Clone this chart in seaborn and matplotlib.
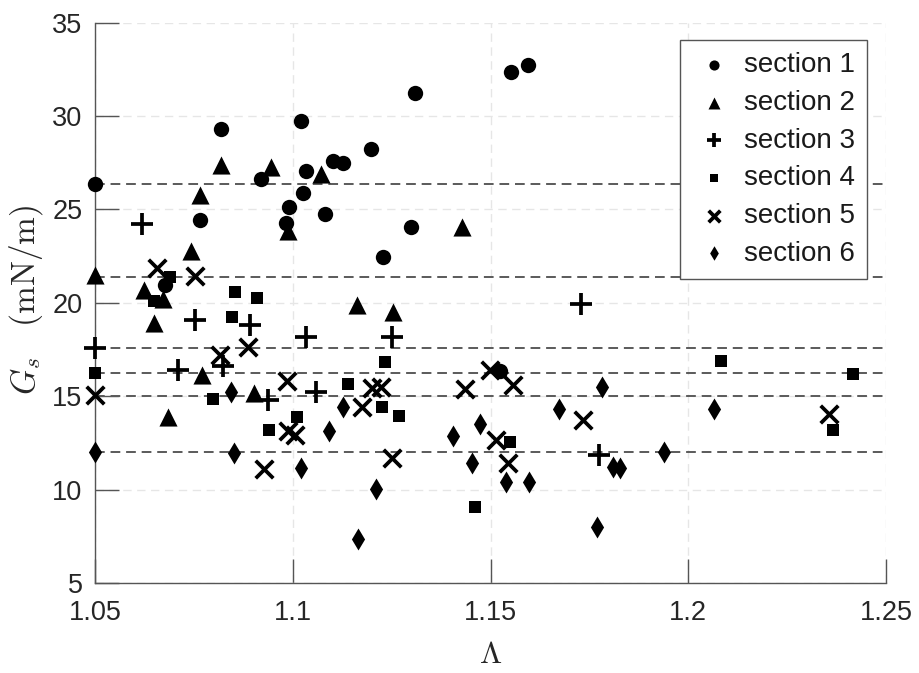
import matplotlib
matplotlib.use("Agg")
import matplotlib.pyplot as plt
import pandas as pd
import seaborn as sns

# Surface energy G_s (mN/m) against stretch ratio Lambda, six sections
sections = ["section 1", "section 2", "section 3", "section 4", "section 5", "section 6"]

lam_s1 = [1.050, 1.0818, 1.092, 1.0765, 1.0677, 1.1022, 1.1309, 1.1198, 1.1102, 1.1128,
          1.1033, 1.1025, 1.0990, 1.0982, 1.1082, 1.1299, 1.1229, 1.1553, 1.1596, 1.1524]
gs_s1 = [26.36, 29.29, 26.61, 24.43, 20.95, 29.73, 31.25, 28.25, 27.61, 27.47,
         27.06, 25.90, 25.15, 24.25, 24.75, 24.04, 22.43, 32.38, 32.73, 16.36]

lam_s2 = [1.050, 1.0818, 1.0944, 1.0765, 1.0743, 1.0625, 1.0673, 1.0649, 1.1072, 1.0987,
          1.1427, 1.1163, 1.1254, 1.0770, 1.0685, 1.0903]
gs_s2 = [21.50, 27.38, 27.29, 25.77, 22.79, 20.68, 20.18, 18.93, 26.90, 23.86,
         24.07, 19.88, 19.52, 16.13, 13.90, 15.20]

lam_s3 = [1.050, 1.0618, 1.0753, 1.0892, 1.0711, 1.0824, 1.0938, 1.1033, 1.1250, 1.1059,
          1.1728, 1.1775]
gs_s3 = [17.56, 24.22, 19.08, 18.81, 16.40, 16.61, 14.79, 18.15, 18.15, 15.24,
         19.93, 11.85]

lam_s4 = [1.050, 1.0649, 1.0690, 1.0854, 1.0909, 1.0846, 1.0798, 1.0941, 1.1010, 1.1139,
          1.1233, 1.1226, 1.1269, 1.1550, 1.1462, 1.2082, 1.2416, 1.2365]
gs_s4 = [16.25, 20.09, 21.36, 20.59, 20.24, 19.22, 14.84, 13.18, 13.90, 15.63,
         16.84, 14.43, 13.95, 12.53, 9.08, 16.88, 16.18, 13.18]

lam_s5 = [1.050, 1.0656, 1.0753, 1.0816, 1.0888, 1.0926, 1.0985, 1.0989, 1.1006, 1.1174,
          1.1201, 1.1224, 1.1250, 1.1435, 1.1499, 1.1556, 1.1514, 1.1545, 1.1734, 1.2356]
gs_s5 = [15.06, 21.85, 21.43, 17.20, 17.65, 11.13, 15.82, 13.15, 12.92, 14.43,
         15.42, 15.47, 11.72, 15.37, 16.40, 15.60, 12.65, 11.40, 13.72, 14.04]

lam_s6 = [1.050, 1.0843, 1.0852, 1.1126, 1.1092, 1.1020, 1.1210, 1.1164, 1.1404, 1.1473,
          1.1452, 1.1538, 1.1597, 1.1674, 1.1782, 1.1809, 1.1827, 1.1770, 1.1939, 1.2066]
gs_s6 = [12.02, 15.24, 11.94, 14.43, 13.13, 11.17, 10.01, 7.35, 12.86, 13.50,
         11.40, 10.41, 10.41, 14.34, 15.47, 11.22, 11.17, 8.00, 11.99, 14.34]

# Mean G_s of each section (dashed reference levels)
section_means = [26.36, 21.40, 17.56, 16.25, 15.00, 12.02]

x_ticks = [1.05, 1.10, 1.15, 1.20, 1.25]
x_tick_labels = ["1.05", "1.1", "1.15", "1.2", "1.25"]
y_ticks = [5, 10, 15, 20, 25, 30, 35]

lams = [lam_s1, lam_s2, lam_s3, lam_s4, lam_s5, lam_s6]
gss = [gs_s1, gs_s2, gs_s3, gs_s4, gs_s5, gs_s6]
df = pd.concat(
    [pd.DataFrame({"Lambda": l, "Gs": g, "section": name})
     for name, l, g in zip(sections, lams, gss)],
    ignore_index=True,
)

sns.set_theme(style="white")
plt.rcParams["font.family"] = ["Liberation Sans", "DejaVu Sans"]
plt.rcParams["mathtext.fontset"] = "cm"

fig = plt.figure(figsize=(9.19, 6.73), dpi=100)
ax = fig.add_axes([0.1034, 0.1337, 0.8607, 0.8326])

# marker, size (pt^2), line width for each section
styles = {
    "section 1": ("o", 122, 0.0),
    "section 2": ("^", 170, 0.0),
    "section 3": ("+", 230, 2.7),
    "section 4": ("s", 82, 0.0),
    "section 5": ("x", 160, 2.7),
    "section 6": ("d", 125, 0.0),
}

for name in sections:
    mk, sz, lw = styles[name]
    sub = df[df["section"] == name]
    kw = dict(color="black", linewidth=lw)
    if mk not in ("+", "x"):
        kw["edgecolor"] = "black"
    sns.scatterplot(data=sub, x="Lambda", y="Gs", marker=mk, s=sz, ax=ax,
                    label=name, clip_on=False, zorder=4, **kw)

for level in section_means:
    ax.axhline(level, color="#5a5a5a", lw=1.4, dashes=(5, 3), zorder=2)

ax.set_xlim(1.05, 1.25)
ax.set_ylim(5, 35)
ax.set_xticks(x_ticks)
ax.set_xticklabels(x_tick_labels)
ax.set_yticks(y_ticks)

ax.grid(True, color="#e6e6e6", lw=1.0, dashes=(6, 4), zorder=0)
ax.set_axisbelow(True)

for side in ("top", "right"):
    ax.spines[side].set_visible(False)
for side in ("left", "bottom"):
    ax.spines[side].set_color("#555555")
    ax.spines[side].set_linewidth(1.0)

ax.tick_params(axis="both", which="major", bottom=True, left=True, direction="in",
               length=17, width=1.0, color="#555555",
               labelsize=19.5, labelcolor="#262626")
ax.tick_params(axis="y", pad=9)
ax.tick_params(axis="x", pad=12)

ax.set_xlabel(r"$\Lambda$", fontsize=23, color="#262626", labelpad=10)
ax.set_ylabel(r"$G_s\ \ \ (\mathrm{mN/m})$", fontsize=24, color="#262626", labelpad=3)
ax.yaxis.set_label_coords(-0.063, 0.505)

leg = ax.legend(loc="upper right", bbox_to_anchor=(0.976, 0.9696), borderaxespad=0,
                fontsize=20, frameon=True, fancybox=False, markerscale=0.66,
                handletextpad=0.3, labelspacing=0.42, borderpad=0.45, handlelength=1.55)
leg.get_frame().set_edgecolor("#555555")
leg.get_frame().set_linewidth(1.0)
leg.get_frame().set_facecolor("white")
leg.get_frame().set_alpha(1.0)
for t in leg.get_texts():
    t.set_color("#1a1a1a")

fig.savefig("out.png", dpi=100)
